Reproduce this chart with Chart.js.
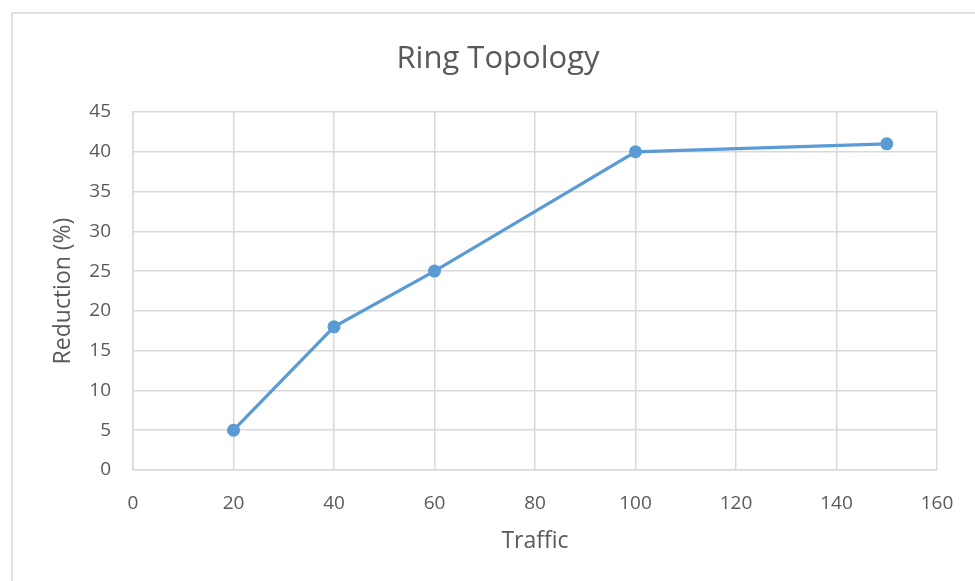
<!DOCTYPE html>
<html>
<head>
<meta charset="utf-8">
<script src="https://cdn.jsdelivr.net/npm/chart.js@4/dist/chart.umd.min.js"></script>
<style>
  html, body { margin: 0; padding: 0; background: #ffffff; overflow: hidden; width: 975px; height: 581px; }
  #frame { position: absolute; left: 11px; top: 12px; width: 990px; height: 600px; border: 2px solid #e1e1e1; box-sizing: border-box; }
  #wrap { position: absolute; left: 0; top: 0; width: 996px; height: 581px; }
</style>
</head>
<body>
<div id="frame"></div>
<div id="wrap"><canvas id="chart" width="996" height="581"></canvas></div>
<script>
// Traffic load vs. reduction for the ring topology
const traffic = [20, 40, 60, 100, 150];
const reduction = [5, 18, 25, 40, 41];
const xTicks = [0, 20, 40, 60, 80, 100, 120, 140, 160];
const yTicks = [0, 5, 10, 15, 20, 25, 30, 35, 40, 45];

const points = traffic.map((t, i) => ({ x: t, y: reduction[i] }));
const textColor = '#595959';
const gridColor = '#d9d9d9';
const family = '"Open Sans", Lato, sans-serif';

new Chart(document.getElementById('chart'), {
  type: 'line',
  data: {
    datasets: [{
      label: 'Reduction',
      data: points,
      borderColor: '#5b9bd5',
      backgroundColor: '#5b9bd5',
      borderWidth: 3.2,
      pointRadius: 6.5,
      pointBorderWidth: 0,
      tension: 0,
      fill: false
    }]
  },
  options: {
    responsive: false,
    animation: false,
    layout: { padding: { left: 59, right: 59, top: 0, bottom: 0 } },
    plugins: {
      legend: { display: false },
      tooltip: { enabled: false },
      title: {
        display: true,
        text: 'Ring Topology',
        color: textColor,
        font: { family: family, size: 31, weight: 'normal' },
        padding: { top: 40.4, bottom: 34.4 }
      }
    },
    scales: {
      x: {
        type: 'linear',
        min: xTicks[0],
        max: xTicks[xTicks.length - 1],
        afterBuildTicks: (axis) => { axis.ticks = xTicks.map(v => ({ value: v })); },
        afterFit: (axis) => { axis.height = 111; },
        grid: { color: gridColor, lineWidth: 1.5, drawTicks: false },
        border: { color: gridColor, width: 1.5 },
        ticks: { color: textColor, font: { family: family, size: 19 }, padding: 22.5 },
        title: {
          display: true,
          text: 'Traffic',
          color: textColor,
          font: { family: family, size: 23 },
          padding: { top: 0, bottom: 26.2 }
        }
      },
      y: {
        type: 'linear',
        min: yTicks[0],
        max: yTicks[yTicks.length - 1],
        afterBuildTicks: (axis) => { axis.ticks = yTicks.map(v => ({ value: v })); },
        afterFit: (axis) => { axis.width = 74; },
        grid: { color: gridColor, lineWidth: 1.5, drawTicks: false },
        border: { color: gridColor, width: 1.5 },
        ticks: { color: textColor, font: { family: family, size: 19 }, padding: 22 },
        title: {
          display: true,
          text: 'Reduction (%)',
          color: textColor,
          font: { family: family, size: 23, lineHeight: '6px' },
          padding: { top: 1, bottom: 0 }
        }
      }
    }
  }
});
</script>
</body>
</html>
